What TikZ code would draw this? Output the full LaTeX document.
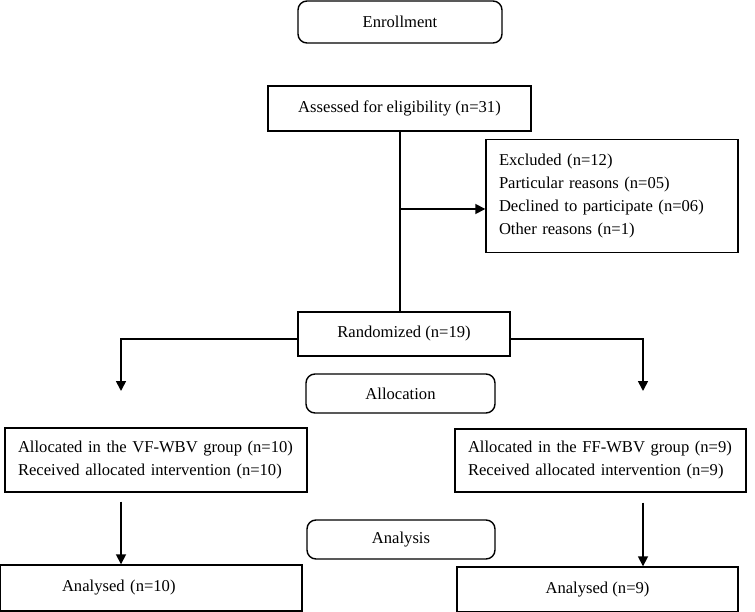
\documentclass[tikz,border=0pt]{standalone}
\usepackage{fontspec}
\setmainfont{Liberation Serif}
\usetikzlibrary{arrows.meta}
\tikzset{>={Triangle[length=10pt,width=10pt]}}
\tikzset{
  stagebox/.style={draw,line width=1.4pt,rounded corners=9pt,inner sep=0pt},
  flowbox/.style={draw,line width=1.4pt,inner sep=0pt},
  flowline/.style={line width=1.7pt}
}

\begin{document}
\begin{tikzpicture}[x=1pt,y=-1pt,font=\fontsize{16.6}{23}\selectfont]
    \useasboundingbox (0,0) rectangle (755,612);
    \node[stagebox,minimum width=204pt,minimum height=42pt] (enrol) at (400,22) {Enrollment};
    \node[flowbox,minimum width=263pt,minimum height=45pt] (assess) at (399.5,108.5) {Assessed for eligibility (n=31)};
    \node[flowbox,minimum width=252pt,minimum height=113pt,text width=226pt,align=left,inner xsep=13pt] (excl) at (612,196)
      {Excluded (n=12)\\Particular reasons (n=05)\\Declined to participate (n=06)\\Other reasons (n=1)};
    \node[flowbox,minimum width=212pt,minimum height=44pt] (rand) at (404,334) {Randomized (n=19)};
    \node[stagebox,minimum width=189pt,minimum height=39pt] (alloc) at (400.5,393.5) {Allocation};
    \node[flowbox,minimum width=302pt,minimum height=64pt,text width=276pt,align=left,inner xsep=13pt] (vf) at (156,460)
      {Allocated in the VF-WBV group (n=10)\\Received allocated intervention (n=10)};
    \node[flowbox,minimum width=291pt,minimum height=63pt,text width=265pt,align=left,inner xsep=13pt] (ff) at (600.5,460.5)
      {Allocated in the FF-WBV group (n=9)\\Received allocated intervention (n=9)};
    \node[stagebox,minimum width=188pt,minimum height=39pt] (anal) at (401,539.5) {Analysis};
    \node[flowbox,minimum width=302pt,minimum height=46pt,text width=178pt,align=left,inner xsep=62pt] (anvf) at (151,588) {Analysed (n=10)};
    \node[flowbox,minimum width=281pt,minimum height=45pt] (anff) at (597.5,589.5) {Analysed (n=9)};

    \coordinate (split) at (400,209);
    \coordinate (tipvf) at (121,391);
    \coordinate (tipff) at (643,391);
    \draw[flowline] (split |- assess.south) -- (split |- rand.north);
    \draw[flowline,->] (split) -- (split -| excl.west);
    \draw[flowline,->] ([yshift=-5pt]rand.west) -| (tipvf);
    \draw[flowline,->] ([yshift=-5pt]rand.east) -| (tipff);
    \draw[flowline,->] ([yshift=-9pt]tipvf |- vf.south) -- (tipvf |- anvf.north);
    \draw[flowline,->] ([yshift=-10pt]tipff |- ff.south) -- (tipff |- anff.north);
\end{tikzpicture}
\end{document}
